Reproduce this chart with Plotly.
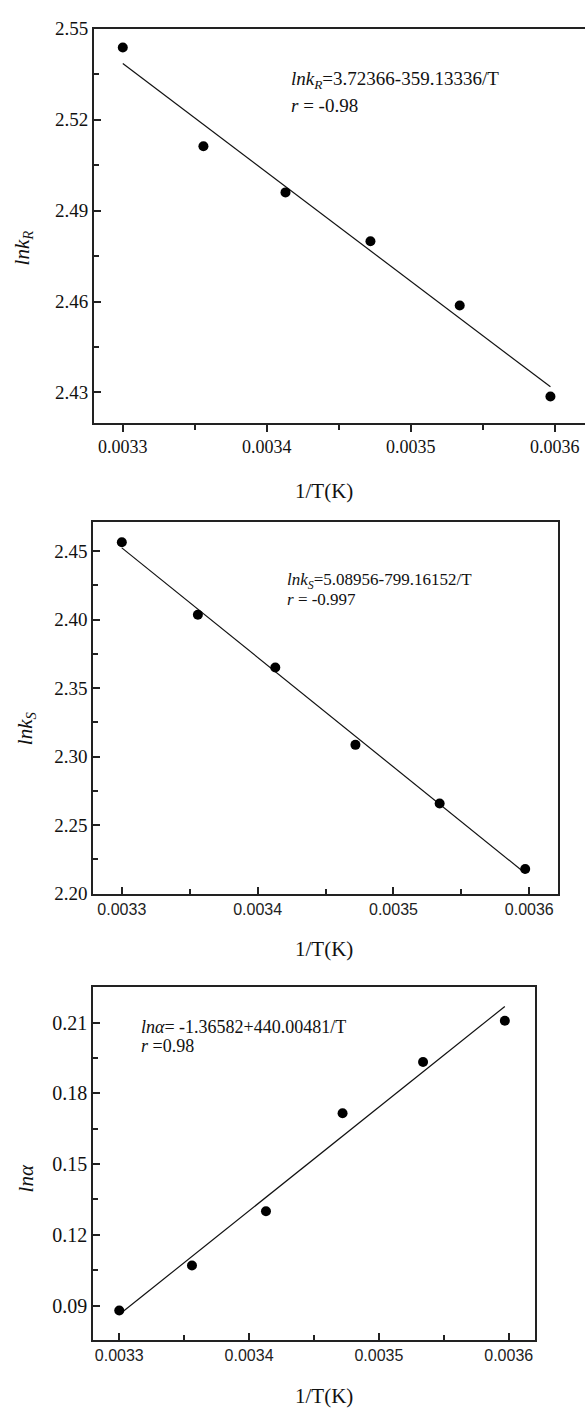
import plotly.graph_objects as go

W, H = 585, 1417

# ---- data ----
inv_T = [0.003300, 0.003356, 0.003413, 0.003472, 0.003534, 0.003597]
ln_kR = [2.5438, 2.5112, 2.4960, 2.4799, 2.4587, 2.4287]
ln_kS = [2.4565, 2.4036, 2.3651, 2.3086, 2.2658, 2.2180]
ln_alpha = [0.0879, 0.1070, 0.1300, 0.1716, 0.1933, 0.2108]

# regression coefficients (intercept, slope) shown on the chart
fit_R = (3.72366, -359.13336)
fit_S = (5.08956, -799.16152)
fit_A = (-1.36582, 440.00481)

x_ticks = [0.0033, 0.0034, 0.0035, 0.0036]
y1_ticks = [2.43, 2.46, 2.49, 2.52, 2.55]
y2_ticks = [2.20, 2.25, 2.30, 2.35, 2.40, 2.45]
y3_ticks = [0.09, 0.12, 0.15, 0.18, 0.21]

SERIF = "Liberation Serif, Times New Roman, Times, serif"
SANS = "Liberation Sans, Arial, sans-serif"
AX = "#222222"


def fx(p):
    return p / W


def fy(p):
    return 1 - p / H


fig = go.Figure()

panels = [
    (ln_kR, fit_R, "x", "y"),
    (ln_kS, fit_S, "x2", "y2"),
    (ln_alpha, fit_A, "x3", "y3"),
]
for yv, (a, b), xa, ya in panels:
    xl = [min(inv_T), max(inv_T)]
    fig.add_trace(go.Scatter(x=xl, y=[a + b * v for v in xl], mode="lines",
                             line=dict(color="#111111", width=1.2),
                             xaxis=xa, yaxis=ya, showlegend=False, hoverinfo="skip"))
    fig.add_trace(go.Scatter(x=inv_T, y=yv, mode="markers",
                             marker=dict(color="#000000", size=10),
                             xaxis=xa, yaxis=ya, showlegend=False))


def xaxis(domain, rng, anchor, font, ticks_dir):
    return dict(domain=domain, range=rng, anchor=anchor, tickvals=x_ticks,
                tickformat=".4f", showgrid=False, zeroline=False,
                showline=True, linecolor=AX, linewidth=2, mirror=True,
                ticks=ticks_dir, ticklen=7, tickwidth=1.5, tickcolor=AX,
                minor=dict(dtick=0.00005, tick0=0.0033, ticks=ticks_dir, ticklen=5,
                           tickwidth=1.5, tickcolor=AX, showgrid=False),
                tickfont=font)


def yaxis(domain, rng, anchor, tickvals, dminor, font, mirror):
    return dict(domain=domain, range=rng, anchor=anchor, tickvals=tickvals,
                tickformat=".2f", showgrid=False, zeroline=False,
                showline=True, linecolor=AX, linewidth=2, mirror=mirror,
                ticks="inside", ticklen=7, tickwidth=1.5, tickcolor=AX,
                minor=dict(dtick=dminor, tick0=tickvals[0], ticks="inside", ticklen=5,
                           tickwidth=1.5, tickcolor=AX, showgrid=False),
                tickfont=font)


serif18 = dict(family=SERIF, size=18, color="#111111")
serif19 = dict(family=SERIF, size=19, color="#111111")
serif20 = dict(family=SERIF, size=20, color="#111111")
sans16 = dict(family=SANS, size=16, color="#222222")

fig.update_layout(
    width=W, height=H,
    margin=dict(l=0, r=0, t=0, b=0),
    paper_bgcolor="white", plot_bgcolor="white",
    font=dict(family=SERIF),
    xaxis=xaxis([fx(94), 1.0], [0.00328, 0.003621], "y", serif18, "outside"),
    yaxis=yaxis([fy(419), fy(19)], [2.42, 2.55], "x", y1_ticks, 0.015, serif19, False),
    xaxis2=xaxis([fx(93.3), fx(557.8)], [0.003279, 0.003621], "y2", sans16, "inside"),
    yaxis2=yaxis([fy(897), fy(520)], [2.20, 2.471], "x2", y2_ticks, 0.025, serif19, True),
    xaxis3=xaxis([fx(93.3), fx(534.7)], [0.00328, 0.00362], "y3", sans16, "inside"),
    yaxis3=yaxis([fy(1350), fy(992)], [0.0754, 0.2250], "x3", y3_ticks, 0.015, serif20, True),
)

ann = []


def text(x, y, s, size, xanchor="left", angle=0):
    ann.append(dict(x=fx(x), y=fy(y), xref="paper", yref="paper", text=s,
                    showarrow=False, xanchor=xanchor, yanchor="middle", textangle=angle,
                    font=dict(family=SERIF, size=size, color="#111111")))


# equations
text(289, 71, "<i>lnk</i><sub><i>R</i></sub>=3.72366-359.13336/T", 19)
text(289, 97, "<i>r</i> = -0.98", 19)
text(285, 580, "<i>lnk</i><sub><i>S</i></sub>=5.08956-799.16152/T", 17)
text(285, 598, "<i>r</i> = -0.997", 17)
text(139, 1032, "<i>ln\u03b1</i>= -1.36582+440.00481/T", 18)
text(139, 1052, "<i>r</i> =0.98", 18)

# axis titles
for yy in (488, 953, 1407):
    text(324, yy, "1/T(K)", 21, xanchor="center")
text(23, 242, "<i>lnk</i><sub><i>R</i></sub>", 21, xanchor="center", angle=-90)
text(26, 729, "<i>lnk</i><sub><i>S</i></sub>", 21, xanchor="center", angle=-90)
text(26, 1186, "<i>ln\u03b1</i>", 21, xanchor="center", angle=-90)

fig.update_layout(annotations=ann)

fig.write_html("out.html",
               config={"displayModeBar": False},
               post_script="document.body.style.margin='0';document.body.style.padding='0';")
